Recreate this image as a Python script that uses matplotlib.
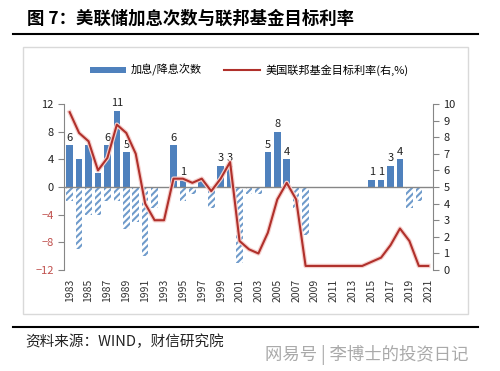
import matplotlib
matplotlib.use("Agg")
import matplotlib.pyplot as plt
import matplotlib.patheffects as pe
from matplotlib.patches import Patch, Rectangle
from matplotlib.lines import Line2D
import numpy as np

plt.rcParams['font.family'] = ['Noto Sans CJK SC', 'DejaVu Sans']
plt.rcParams['hatch.linewidth'] = 1.5

# 数据
years = list(range(1983, 2022))
hikes = [6, 4, 6, 2, 6, 11, 5, 0, 0, 0, 0, 6, 1, 0, 1, 0, 3, 3, 0, 0,
         0, 5, 8, 4, 0, 0, 0, 0, 0, 0, 0, 0, 1, 1, 3, 4, 0, 0, 0]
cuts = [-2, -9, -4, -4, -2, -2, -6, -5, -10, -3, 0, 0, -2, -1, 0, -3, 0, 0, -11, -1,
        -1, 0, 0, 0, -3, -7, 0, 0, 0, 0, 0, 0, 0, 0, 0, 0, -3, -2, 0]
rate = [9.5, 8.25, 7.75, 6.0, 6.75, 8.75, 8.25, 7.0, 4.0, 3.0, 3.0, 5.5, 5.5, 5.25,
        5.5, 4.75, 5.5, 6.5, 1.75, 1.25, 1.0, 2.25, 4.25, 5.25, 4.25, 0.25, 0.25,
        0.25, 0.25, 0.25, 0.25, 0.25, 0.5, 0.75, 1.5, 2.5, 1.75, 0.25, 0.25]
# 只标注部分柱子
show_label = [1, 0, 0, 0, 1, 1, 1, 0, 0, 0, 0, 1, 1, 0, 0, 0, 1, 1, 0, 0,
              0, 1, 1, 1, 0, 0, 0, 0, 0, 0, 0, 0, 1, 1, 1, 1, 0, 0, 0]

blue = '#4F81BD'
hatch_blue = '#6F9BCB'
red = '#B0302B'
gray = '#868686'

fig = plt.figure(figsize=(5, 3.71), dpi=100)

# 外框
fig.patches.append(Rectangle((0.046, 0.154), 0.89, 0.719, transform=fig.transFigure,
                             fill=False, edgecolor='#D9D9D9', linewidth=1))

ax = fig.add_axes([0.128, 0.272, 0.738, 0.448])
x = np.arange(len(years))
ax.bar(x, hikes, width=0.7, color=blue, zorder=2)
ax.bar(x, cuts, width=0.7, facecolor='white', edgecolor=hatch_blue, hatch='/////',
       linewidth=0, zorder=2)
ax.axhline(0, color=gray, linewidth=1, zorder=3)

for xi, h, s in zip(x, hikes, show_label):
    if s:
        ax.annotate(str(h), (xi, h), xytext=(0, 2), textcoords='offset points',
                    ha='center', va='bottom', fontsize=8, color='#222222')

ax.set_xlim(-0.6, len(years) - 0.5)
ax.set_ylim(-12, 12)
ax.set_yticks(range(-12, 13, 4))
ax.set_xticks(x[::2])
ax.set_xticklabels([str(y) for y in years[::2]], rotation=90, fontsize=7.5)
ax.tick_params(axis='x', length=0, pad=6, colors='#333333')
ax.tick_params(axis='y', direction='out', length=4, color=gray, labelsize=8)
for lab, v in zip(ax.get_yticklabels(), range(-12, 13, 4)):
    lab.set_color('#C0504D' if v < 0 else '#222222')
for s in ['top', 'right', 'bottom']:
    ax.spines[s].set_visible(False)
ax.spines['left'].set_color(gray)
ax.patch.set_alpha(0)

ax2 = ax.twinx()
ax2.plot(x, rate, color=red, linewidth=1.5, zorder=4,
         path_effects=[pe.Stroke(linewidth=3.2, foreground='#F6D0CD'), pe.Normal()])
ax2.set_ylim(0, 10)
ax2.set_yticks(range(0, 11))
ax2.tick_params(axis='y', direction='out', length=4, color=gray, labelsize=8,
                labelcolor='#222222')
for s in ['top', 'left', 'bottom']:
    ax2.spines[s].set_visible(False)
ax2.spines['right'].set_color(gray)

# 图例
handles = [Patch(facecolor=blue, edgecolor='none'),
           Line2D([0], [0], color=red, linewidth=1.5)]
ax.legend(handles, ['加息/降息次数', '美国联邦基金目标利率(右,%)'], ncol=2,
          loc='center left', bbox_to_anchor=(0.16, 0.811), bbox_transform=fig.transFigure,
          frameon=False, fontsize=8, handlelength=3.2, handleheight=0.5,
          handletextpad=0.5, columnspacing=2.0)

# 标题与来源
fig.text(0.054, 0.949, '图 7：美联储加息次数与联邦基金目标利率', fontsize=12.5,
         fontweight='bold', va='center', ha='left', color='black')
fig.add_artist(Line2D([0.026, 0.956], [0.908, 0.908], color='black', linewidth=1.5,
                      transform=fig.transFigure))
fig.add_artist(Line2D([0.026, 0.956], [0.119, 0.119], color='black', linewidth=1.5,
                      transform=fig.transFigure))
fig.text(0.05, 0.079, '资料来源：WIND，财信研究院', fontsize=10.5, style='italic',
         va='center', ha='left', color='#222222')
fig.text(0.53, 0.043, '网易号 | 李博士的投资日记', fontsize=12.5, va='center', ha='left',
         color='#AAAAAA')

fig.savefig('out.png', dpi=100)
